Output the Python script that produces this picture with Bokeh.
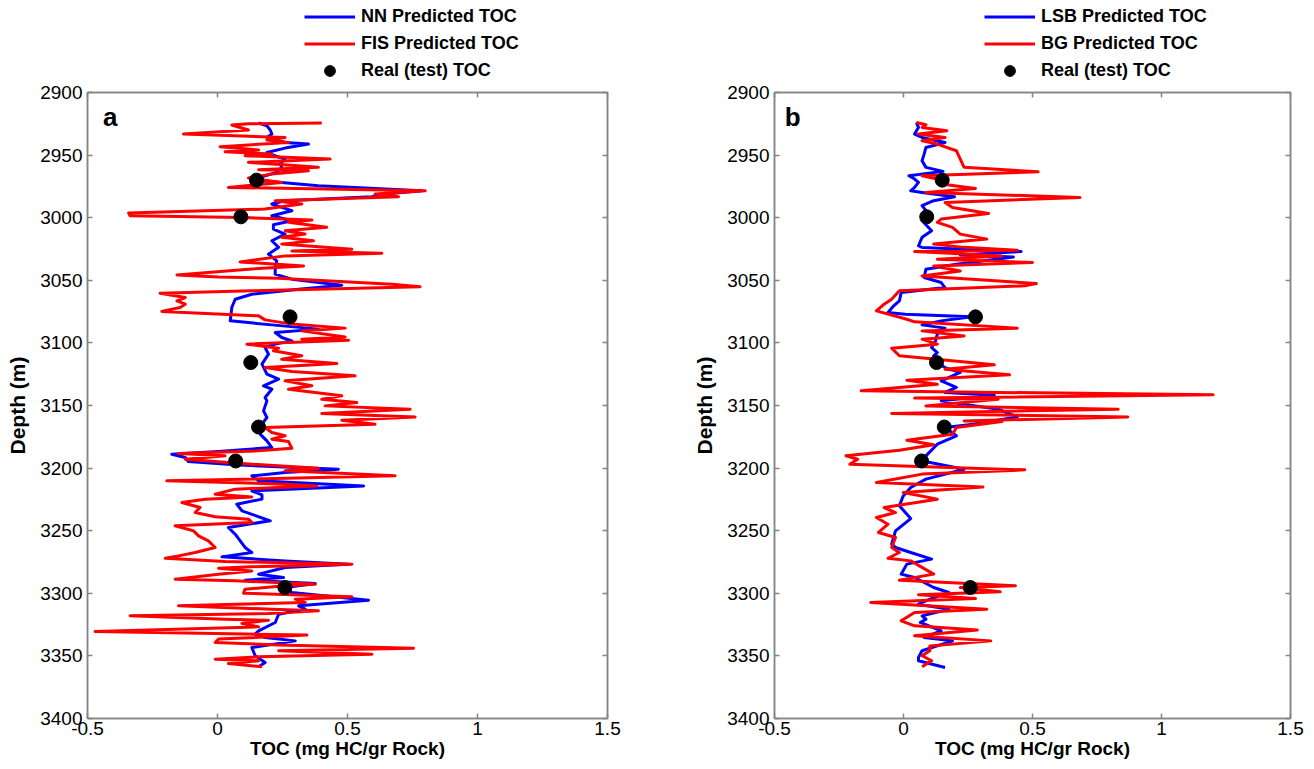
from bokeh.plotting import figure
from bokeh.models import (Range1d, FixedTicker, LinearAxis, Legend, LegendItem, Label,
                          NumeralTickFormatter, CustomJSTickFormatter)
from bokeh.layouts import row, column
from bokeh.embed import file_html
from bokeh.resources import INLINE

# ---------------- data ----------------
nn_depth = [2924.4, 2926.6, 2930.0, 2933.2, 2935.9, 2939.9, 2941.2, 2944.4, 2947.9, 2949.7,
            2953.2, 2956.6, 2959.8, 2963.8, 2966.5, 2970.0, 2974.5, 2978.5, 2981.1, 2983.3,
            2986.4, 2989.1, 2994.4, 2998.4, 3002.4, 3005.6, 3009.1, 3013.1, 3018.4, 3023.7,
            3029.1, 3034.5, 3039.8, 3045.1, 3049.1, 3053.9, 3057.1, 3061.1, 3065.1, 3071.7,
            3082.4, 3085.6, 3089.0, 3091.7, 3095.7, 3098.4, 3101.0, 3103.7, 3109.0, 3117.0,
            3125.0, 3129.0, 3134.3, 3137.0, 3143.6, 3146.3, 3154.3, 3159.6, 3164.9, 3168.9,
            3172.9, 3178.2, 3183.6, 3186.7, 3188.9, 3191.5, 3194.7, 3197.4, 3200.9, 3203.5,
            3206.2, 3210.2, 3214.2, 3218.2, 3221.4, 3224.8, 3228.8, 3234.1, 3242.1, 3247.4,
            3252.8, 3263.4, 3267.4, 3270.9, 3274.1, 3276.7, 3279.4, 3284.7, 3287.4, 3289.5,
            3292.2, 3295.4, 3299.4, 3305.5, 3310.0, 3312.7, 3316.7, 3323.3, 3330.0, 3332.6,
            3335.3, 3338.0, 3343.3, 3349.9, 3355.3, 3358.7]
nn_toc = [0.158, 0.19, 0.203, 0.209, 0.19, 0.26, 0.35, 0.26, 0.19, 0.209,
          0.26, 0.241, 0.247, 0.228, 0.183, 0.149, 0.388, 0.786, 0.645, 0.594,
          0.26, 0.209, 0.286, 0.209, 0.286, 0.215, 0.215, 0.26, 0.209, 0.235,
          0.196, 0.228, 0.222, 0.222, 0.286, 0.478, 0.312, 0.132, 0.068, 0.055,
          0.049, 0.209, 0.388, 0.222, 0.247, 0.286, 0.222, 0.183, 0.196, 0.171,
          0.19, 0.235, 0.177, 0.209, 0.183, 0.19, 0.177, 0.19, 0.171, 0.158,
          0.164, 0.19, 0.209, 0.004, -0.176, -0.124, -0.112, 0.068, 0.465, 0.26,
          0.132, 0.158, 0.562, 0.132, 0.171, 0.171, 0.074, 0.094, 0.203, 0.042,
          0.068, 0.106, 0.132, 0.017, 0.26, 0.504, 0.26, 0.158, 0.254, 0.106,
          0.376, 0.26, 0.286, 0.581, 0.312, 0.337, 0.235, 0.222, 0.158, 0.145,
          0.183, 0.299, 0.132, 0.145, 0.183, 0.158]

fis_depth = [2924.4, 2925.0, 2926.0, 2930.0, 2933.2, 2935.9, 2938.0, 2939.9, 2943.3, 2946.0,
             2947.3, 2949.2, 2950.5, 2953.2, 2955.8, 2957.7, 2959.8, 2961.7, 2962.5, 2965.2,
             2968.3, 2971.8, 2975.8, 2978.5, 2981.1, 2983.3, 2986.4, 2989.1, 2993.1, 2996.3,
             2998.4, 2999.8, 3001.9, 3003.7, 3007.7, 3010.4, 3013.1, 3015.7, 3018.4, 3021.1,
             3025.2, 3026.5, 3028.3, 3030.5, 3035.3, 3038.5, 3041.1, 3045.7, 3047.3, 3048.3,
             3053.1, 3055.2, 3058.4, 3060.3, 3063.8, 3066.4, 3069.1, 3071.7, 3074.9, 3078.4,
             3081.6, 3085.0, 3088.2, 3090.4, 3095.2, 3097.0, 3097.8, 3101.0, 3104.2, 3106.3,
             3110.3, 3113.0, 3116.5, 3119.7, 3122.8, 3126.3, 3130.3, 3134.3, 3137.0, 3142.3,
             3145.0, 3147.6, 3150.3, 3153.0, 3156.4, 3159.1, 3161.7, 3164.9, 3167.6, 3171.6,
             3174.2, 3176.9, 3178.8, 3184.1, 3186.2, 3188.3, 3190.2, 3192.9, 3196.9, 3200.1,
             3202.2, 3206.2, 3210.2, 3212.8, 3214.2, 3216.8, 3220.8, 3223.0, 3224.8, 3227.5,
             3231.5, 3235.5, 3238.9, 3240.8, 3243.4, 3246.1, 3250.1, 3254.1, 3258.1, 3263.4,
             3267.4, 3270.1, 3272.0, 3274.6, 3276.7, 3278.9, 3279.9, 3282.1, 3284.7, 3288.7,
             3290.0, 3292.7, 3294.0, 3296.7, 3299.9, 3302.8, 3304.7, 3307.3, 3310.0, 3312.7,
             3314.0, 3316.1, 3318.0, 3320.7, 3321.5, 3324.1, 3326.8, 3330.5, 3332.6, 3333.4,
             3336.6, 3339.3, 3341.2, 3343.8, 3345.9, 3348.6, 3350.7, 3352.6, 3353.9, 3356.1,
             3358.7]
fis_toc = [0.401, 0.119, 0.055, 0.119, -0.131, 0.26, 0.19, 0.273, 0.01, 0.158,
           0.029, 0.209, 0.106, 0.433, 0.119, 0.254, 0.388, 0.158, 0.35, 0.209,
           0.119, 0.247, 0.042, 0.799, 0.606, 0.696, 0.222, 0.324, 0.183, -0.342,
           -0.336, 0.094, 0.363, 0.273, 0.42, 0.26, 0.337, 0.247, 0.369, 0.247,
           0.517, 0.286, 0.632, 0.26, 0.087, 0.331, 0.119, -0.156, 0.004, 0.235,
           0.671, 0.779, 0.132, -0.221, -0.124, -0.156, -0.124, -0.144, -0.214, 0.158,
           0.183, 0.286, 0.491, 0.324, 0.491, 0.324, 0.504, 0.113, 0.235, 0.215,
           0.324, 0.247, 0.459, 0.183, 0.286, 0.529, 0.26, 0.363, 0.273, 0.478,
           0.401, 0.536, 0.414, 0.741, 0.401, 0.76, 0.478, 0.606, 0.183, 0.209,
           0.26, 0.209, 0.273, 0.286, 0.158, -0.15, 0.029, -0.124, 0.132, 0.388,
           0.26, 0.683, -0.195, 0.26, 0.382, 0.068, -0.009, 0.132, -0.047, -0.137,
           -0.067, -0.086, -0.009, 0.119, 0.132, -0.163, -0.092, -0.073, -0.035, -0.009,
           -0.086, -0.15, -0.201, 0.029, 0.517, 0.106, 0.004, 0.132, 0.004, -0.163,
           0.068, 0.376, 0.26, 0.106, 0.1, 0.517, 0.299, 0.337, -0.15, 0.209,
           0.388, 0.196, -0.336, 0.029, 0.196, 0.094, 0.158, -0.471, 0.106, 0.344,
           0.004, -0.009, 0.235, 0.754, 0.235, 0.594, 0.158, -0.009, 0.158, 0.042,
           0.171]

lsb_depth = [2923.9, 2927.9, 2933.2, 2935.9, 2939.9, 2943.9, 2949.2, 2954.5, 2959.8, 2963.0,
             2966.5, 2969.1, 2971.8, 2975.8, 2978.5, 2979.8, 2983.3, 2986.4, 2990.4, 2994.4,
             2999.2, 3002.4, 3010.4, 3015.7, 3022.4, 3023.8, 3027.0, 3029.7, 3031.3, 3037.1,
             3041.1, 3047.8, 3051.8, 3055.8, 3059.8, 3066.4, 3070.4, 3075.7, 3077.1, 3079.2,
             3082.4, 3085.6, 3088.2, 3093.0, 3098.4, 3103.7, 3107.7, 3110.3, 3115.7, 3119.7,
             3123.6, 3130.3, 3135.6, 3139.6, 3141.8, 3146.3, 3153.0, 3159.1, 3163.6, 3164.9,
             3167.6, 3174.2, 3180.9, 3190.2, 3194.2, 3200.9, 3208.8, 3215.5, 3222.2, 3230.1,
             3240.3, 3250.1, 3260.8, 3263.4, 3267.4, 3272.7, 3276.7, 3284.7, 3287.4, 3295.4,
             3299.4, 3304.7, 3308.7, 3312.7, 3318.0, 3320.7, 3323.3, 3330.0, 3335.3, 3338.0,
             3345.9, 3351.3, 3353.9, 3359.3]
lsb_toc = [0.05, 0.058, 0.043, 0.072, 0.161, 0.087, 0.08, 0.072, 0.087, 0.153,
           0.021, 0.043, 0.058, 0.043, 0.028, 0.072, 0.198, 0.117, 0.072, 0.087,
           0.09, 0.072, 0.109, 0.072, 0.058, 0.072, 0.456, 0.22, 0.426, 0.205,
           0.087, 0.08, 0.146, 0.161, -0.009, -0.016, -0.038, -0.06, 0.006, 0.264,
           0.146, 0.072, 0.161, 0.131, 0.124, 0.109, 0.131, 0.117, 0.128, 0.161,
           0.22, 0.146, 0.205, 0.161, 0.352, 0.146, 0.367, 0.441, 0.308, 0.271,
           0.161, 0.205, 0.131, 0.087, 0.069, 0.235, 0.087, 0.028, -0.001, -0.016,
           0.028, -0.031, -0.046, -0.031, 0.028, 0.109, 0.013, -0.009, 0.043, 0.117,
           0.176, 0.102, 0.058, 0.176, 0.072, 0.087, 0.065, 0.146, 0.08, 0.19,
           0.072, 0.058, 0.058, 0.161]

bg_depth = [2923.9, 2925.8, 2927.9, 2930.5, 2933.2, 2935.9, 2938.5, 2941.2, 2946.5, 2953.2,
            2959.8, 2963.3, 2966.5, 2969.1, 2973.1, 2976.6, 2979.8, 2983.8, 2987.8, 2991.8,
            2996.6, 3001.1, 3003.7, 3007.7, 3013.1, 3017.1, 3021.1, 3023.7, 3026.0, 3027.0,
            3030.5, 3033.1, 3035.8, 3038.5, 3042.5, 3046.5, 3052.6, 3054.4, 3058.4, 3065.1,
            3069.1, 3074.4, 3081.1, 3083.2, 3088.2, 3090.4, 3094.4, 3097.0, 3101.0, 3104.2,
            3110.3, 3117.5, 3121.0, 3125.5, 3129.8, 3133.0, 3138.3, 3141.5, 3144.1, 3145.0,
            3150.3, 3152.9, 3156.4, 3159.1, 3162.3, 3162.8, 3167.6, 3172.9, 3177.7, 3181.4,
            3185.7, 3190.2, 3192.9, 3196.9, 3201.4, 3204.8, 3211.5, 3215.0, 3219.5, 3224.8,
            3231.5, 3235.5, 3239.5, 3244.8, 3251.4, 3255.4, 3263.4, 3267.4, 3272.0, 3274.1,
            3284.7, 3289.5, 3294.0, 3295.4, 3298.8, 3301.2, 3304.2, 3307.3, 3312.7, 3315.3,
            3322.0, 3326.0, 3329.4, 3334.0, 3338.0, 3342.0, 3345.9, 3349.9, 3353.9, 3358.7]
bg_toc = [0.05, 0.087, 0.072, 0.168, 0.058, 0.161, 0.072, 0.131, 0.205, 0.22,
          0.235, 0.522, 0.072, 0.131, 0.146, 0.279, 0.087, 0.684, 0.161, 0.19,
          0.33, 0.146, 0.131, 0.19, 0.22, 0.323, 0.117, 0.235, 0.441, 0.043,
          0.382, 0.131, 0.5, 0.117, 0.22, 0.072, 0.515, 0.47, -0.016, -0.046,
          -0.075, -0.105, 0.013, 0.043, 0.441, 0.072, 0.235, 0.072, 0.131, -0.046,
          -0.016, 0.352, 0.161, 0.411, 0.013, 0.131, -0.164, 1.2, 0.043, 0.367,
          0.087, 0.832, -0.046, 0.869, 0.235, 0.382, 0.205, 0.19, 0.013, 0.117,
          -0.016, -0.223, -0.178, -0.208, 0.47, 0.072, -0.105, 0.308, -0.001, 0.131,
          -0.075, -0.031, -0.105, -0.06, -0.097, -0.031, -0.046, -0.016, -0.06, 0.028,
          0.117, -0.016, 0.434, 0.22, 0.375, 0.058, 0.279, -0.127, 0.323, 0.043,
          -0.009, 0.043, 0.286, 0.043, 0.338, 0.102, 0.102, 0.072, 0.109, 0.072]

real_depth = [2970.0, 2999.3, 3079.2, 3115.7, 3167.2, 3194.3, 3295.4]
real_toc = [0.15, 0.09, 0.279, 0.128, 0.158, 0.07, 0.259]

x_ticks = [-0.5, 0, 0.5, 1, 1.5]
y_ticks = [2900, 2950, 3000, 3050, 3100, 3150, 3200, 3250, 3300, 3350, 3400]

FONT = "Liberation Sans"
GREY = "#858585"
BLUE = "#0000ff"
RED = "#ff0000"

LEG_H = 81
MAIN_H = 769 - LEG_H


def style_axis(ax, show_labels):
    ax.axis_line_color = GREY
    ax.axis_line_width = 1.5
    ax.major_tick_line_color = GREY
    ax.major_tick_line_width = 1.5
    ax.major_tick_in = 5
    ax.major_tick_out = 0
    ax.minor_tick_line_color = None
    ax.major_label_text_font = FONT
    ax.major_label_text_font_size = "19px"
    ax.major_label_text_color = "black"
    ax.axis_label_text_font = FONT
    ax.axis_label_text_font_style = "bold"
    ax.axis_label_text_color = "black"
    if not show_labels:
        ax.formatter = CustomJSTickFormatter(code="return ''")
        ax.major_label_standoff = 0
        ax.major_label_text_font_size = "1px"


def make_legend_fig(names, line1, line2, width, leg_x):
    # the series are drawn here out of view; only their legend entries show
    lf = figure(width=width, height=LEG_H, x_range=Range1d(10, 11), y_range=Range1d(0, 1),
                output_backend="svg", toolbar_location=None,
                min_border_left=0, min_border_right=0, min_border_top=0, min_border_bottom=0)
    lf.axis.visible = False
    lf.grid.visible = False
    lf.outline_line_color = None
    lf.background_fill_color = "white"
    lf.border_fill_color = "white"
    r1 = lf.line(line1[1], line1[0], line_color=BLUE, line_width=3)
    r2 = lf.line(line2[1], line2[0], line_color=RED, line_width=3)
    r3 = lf.scatter(real_toc, real_depth, size=14, fill_color="black", line_color="black")
    leg = Legend(items=[LegendItem(label=names[0], renderers=[r1]),
                        LegendItem(label=names[1], renderers=[r2]),
                        LegendItem(label="Real (test) TOC", renderers=[r3])],
                 location=(leg_x, -3), padding=0, margin=0, spacing=0,
                 glyph_width=51, glyph_height=27, label_height=27, label_standoff=6,
                 label_text_font=FONT, label_text_font_style="bold", label_text_font_size="18px",
                 label_text_color="black",
                 border_line_alpha=0, background_fill_alpha=0)
    lf.add_layout(leg)
    return lf


def make_panel(letter, letter_x, line1, line2, width, left, right):
    p = figure(width=width, height=MAIN_H, x_range=Range1d(-0.5, 1.5), y_range=Range1d(3400, 2900),
               output_backend="svg", toolbar_location=None,
               min_border_left=left, min_border_right=right, min_border_top=92 - LEG_H,
               min_border_bottom=51)
    p.xgrid.visible = False
    p.ygrid.visible = False
    p.outline_line_color = GREY
    p.outline_line_width = 1.5
    p.background_fill_color = "white"
    p.border_fill_color = "white"

    xa = p.xaxis[0]
    xa.ticker = FixedTicker(ticks=x_ticks)
    xa.formatter = NumeralTickFormatter(format="0.[0]")
    xa.axis_label = "TOC (mg HC/gr Rock)"
    style_axis(xa, True)
    xa.axis_label_text_font_size = "19px"
    xa.major_label_standoff = 3
    xa.axis_label_standoff = 0

    ya = p.yaxis[0]
    ya.ticker = FixedTicker(ticks=y_ticks)
    ya.axis_label = "Depth (m)"
    style_axis(ya, True)
    ya.axis_label_text_font_size = "21px"
    ya.major_label_standoff = 5
    ya.axis_label_standoff = 8

    top = LinearAxis(ticker=FixedTicker(ticks=x_ticks))
    style_axis(top, False)
    p.add_layout(top, "above")
    rgt = LinearAxis(ticker=FixedTicker(ticks=y_ticks))
    style_axis(rgt, False)
    p.add_layout(rgt, "right")

    p.line(line1[1], line1[0], line_color=BLUE, line_width=3, line_join="round")
    p.line(line2[1], line2[0], line_color=RED, line_width=3, line_join="round")
    p.scatter(real_toc, real_depth, size=14, fill_color="black", line_color="black")

    p.add_layout(Label(x=letter_x, y=2919.5, text=letter, text_font=FONT, text_font_style="bold",
                       text_font_size="26px", text_color="black",
                       text_baseline="alphabetic", text_align="left"))
    return p


la = make_legend_fig(("NN Predicted TOC", "FIS Predicted TOC"),
                     (nn_depth, nn_toc), (fis_depth, fis_toc), 690, 217)
pa = make_panel("a", -0.44, (nn_depth, nn_toc), (fis_depth, fis_toc), 690, 87, 83)
lb = make_legend_fig(("LSB Predicted TOC", "BG Predicted TOC"),
                     (lsb_depth, lsb_toc), (bg_depth, bg_toc), 624, 210)
pb = make_panel("b", -0.46, (lsb_depth, lsb_toc), (bg_depth, bg_toc), 624, 81, 24)

layout = row(column(la, pa, spacing=0), column(lb, pb, spacing=0), spacing=0)
open("out.html", "w").write(file_html(layout, INLINE))
